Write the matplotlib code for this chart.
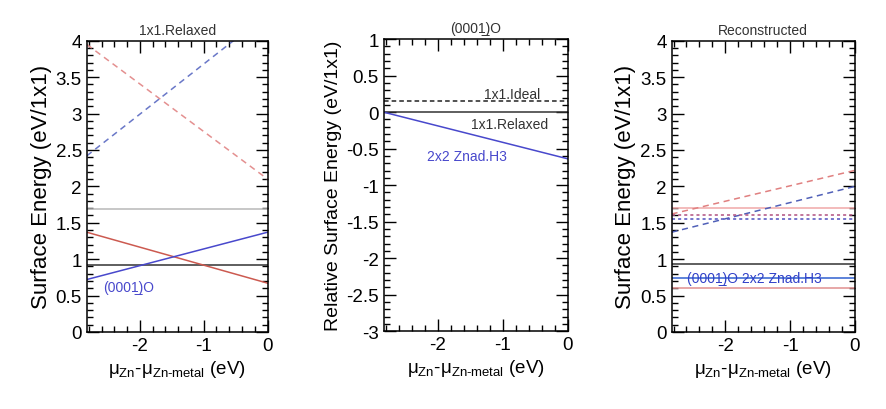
import matplotlib
matplotlib.use("Agg")
import matplotlib.pyplot as plt
from matplotlib.ticker import MultipleLocator, FormatStrFormatter

plt.rcParams['font.family'] = ['Liberation Sans', 'DejaVu Sans']
plt.rcParams['axes.unicode_minus'] = False
plt.rcParams['mathtext.fontset'] = 'custom'
plt.rcParams['mathtext.rm'] = 'Liberation Sans'
plt.rcParams['mathtext.it'] = 'Liberation Sans'

# chemical potential range (eV)
mu = [-2.83, 0.0]

# panel 1: 1x1 Relaxed, values at the two ends of mu
p1_red_dash = [3.95, 2.10]
p1_blue_dash = [2.42, 4.37]
p1_gray = [1.69, 1.69]
p1_black = [0.92, 0.92]
p1_red = [1.37, 0.67]
p1_blue = [0.72, 1.37]

# panel 2: (000-1)O relative energies
p2_ideal = [0.15, 0.15]
p2_relaxed = [0.0, 0.0]
p2_znad = [0.0, -0.64]

# panel 3: Reconstructed
p3_red_dash = [1.62, 2.22]
p3_blue_dash = [1.37, 2.00]
p3_pink = [1.70, 1.70]
p3_red_dot = [1.60, 1.60]
p3_blue_dot = [1.55, 1.55]
p3_black = [0.93, 0.93]
p3_blue = [0.74, 0.74]
p3_red = [0.61, 0.61]

xlab = r"$\mathrm{\mu_{Zn}}$-$\mathrm{\mu_{Zn\text{-}metal}}$ (eV)"
bar1 = "(0001\u0332)O"


def style(ax, ylo, yhi, title, ylabel, ysize=16):
    ax.set_xlim(mu[0], mu[1])
    ax.set_ylim(ylo, yhi)
    ax.set_xticks([-2, -1, 0])
    ax.xaxis.set_minor_locator(MultipleLocator(0.2))
    ax.yaxis.set_major_locator(MultipleLocator(0.5))
    ax.yaxis.set_minor_locator(MultipleLocator(0.1))
    ax.yaxis.set_major_formatter(FormatStrFormatter('%g'))
    ax.tick_params(which='both', direction='in', top=True, right=True,
                   labelsize=13.5, width=1.0)
    ax.tick_params(which='major', length=8.5)
    ax.tick_params(which='minor', length=4.5)
    for s in ax.spines.values():
        s.set_linewidth(1.1)
    ax.set_title(title, fontsize=10, pad=5, color='#333333')
    ax.set_ylabel(ylabel, fontsize=ysize, labelpad=3)
    ax.set_xlabel(xlab, fontsize=13.5, labelpad=3)


fig = plt.figure(figsize=(8.86, 4.10), dpi=100)

ax1 = fig.add_axes([0.098, 0.188, 0.204, 0.710])
ax1.plot(mu, p1_red_dash, '--', color='#e49090', lw=1.1, dashes=(4, 3))
ax1.plot(mu, p1_blue_dash, '--', color='#6a78c8', lw=1.1, dashes=(4, 3))
ax1.plot(mu, p1_gray, '-', color='#b8b8b8', lw=1.1)
ax1.plot(mu, p1_black, '-', color='#333333', lw=1.1)
ax1.plot(mu, p1_red, '-', color='#cc5a50', lw=1.1)
ax1.plot(mu, p1_blue, '-', color='#4848cc', lw=1.1)
ax1.text(-2.58, 0.62, bar1, color='#4848cc', fontsize=10, va='center')
style(ax1, 0, 4, "1x1.Relaxed", "Surface Energy (eV/1x1)")

ax2 = fig.add_axes([0.433, 0.190, 0.208, 0.712])
ax2.plot(mu, p2_ideal, '--', color='#222222', lw=1.1, dashes=(3, 2))
ax2.plot(mu, p2_relaxed, '-', color='#333333', lw=1.1)
ax2.plot(mu, p2_znad, '-', color='#4848cc', lw=1.1)
ax2.text(-0.43, 0.25, "1x1.Ideal", fontsize=10, ha='right', va='center', color='#333333')
ax2.text(-0.31, -0.16, "1x1.Relaxed", fontsize=10, ha='right', va='center', color='#333333')
ax2.text(-2.17, -0.60, "2x2 Znad.H3", fontsize=10, ha='left', va='center', color='#4848cc')
style(ax2, -3, 1, bar1, "Relative Surface Energy (eV/1x1)", ysize=14)

ax3 = fig.add_axes([0.758, 0.188, 0.207, 0.710])
ax3.plot(mu, p3_pink, '-', color='#f0a8a8', lw=1.1)
ax3.plot(mu, p3_red_dash, '--', color='#e08080', lw=1.1, dashes=(4, 3))
ax3.plot(mu, p3_blue_dash, '--', color='#5060b8', lw=1.1, dashes=(4, 3))
ax3.plot(mu, p3_red_dot, color='#b05080', lw=1.1, dashes=(2, 2))
ax3.plot(mu, p3_blue_dot, color='#5050c0', lw=1.1, dashes=(2, 2))
ax3.plot(mu, p3_black, '-', color='#333333', lw=1.1)
ax3.plot(mu, p3_blue, '-', color='#3060d0', lw=1.1)
ax3.plot(mu, p3_red, '-', color='#e09090', lw=1.1)
ax3.text(-1.56, 0.74, bar1 + " 2x2 Znad.H3", fontsize=10, ha='center', va='center',
         color='#3040c8')
style(ax3, 0, 4, "Reconstructed", "Surface Energy (eV/1x1)")

fig.savefig("out.png", dpi=100)
